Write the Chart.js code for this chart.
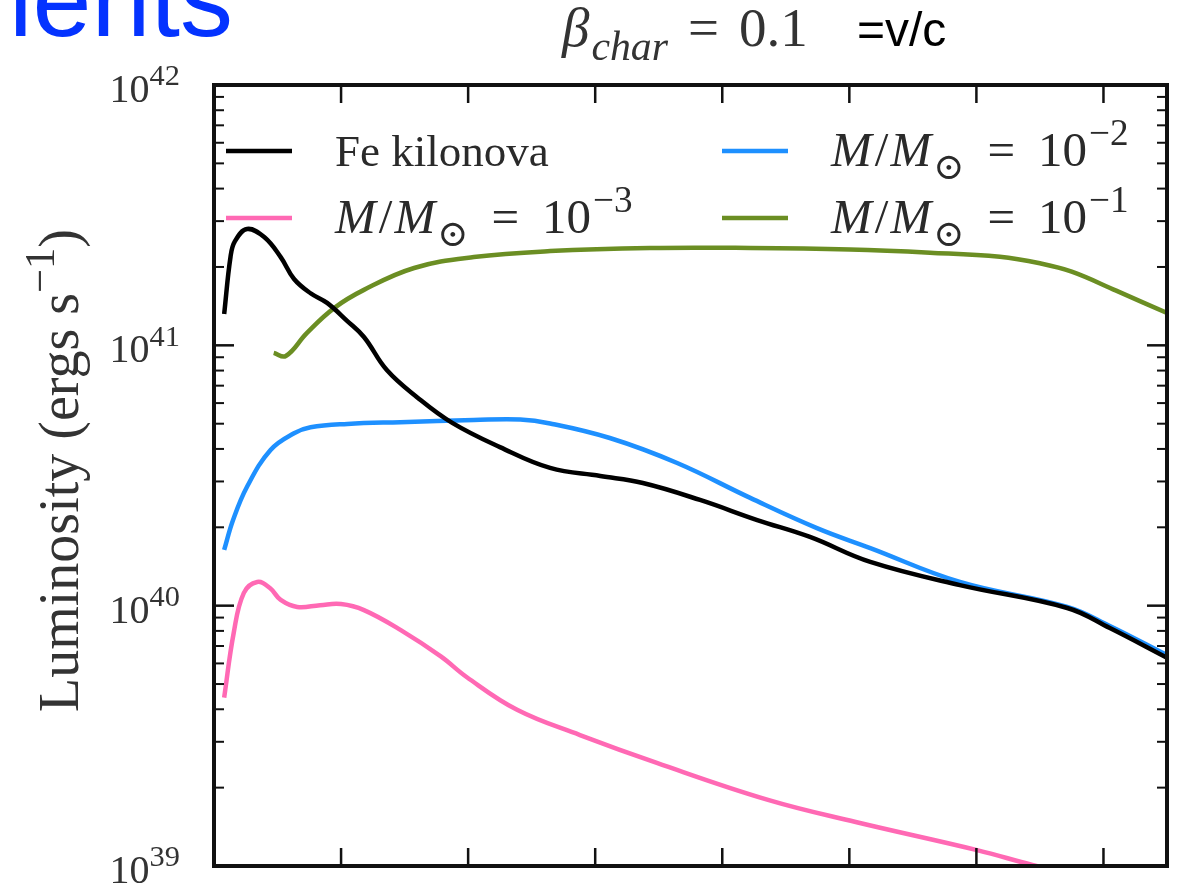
<!DOCTYPE html>
<html>
<head>
<meta charset="utf-8">
<script src="https://cdn.jsdelivr.net/npm/chart.js@4.4.1/dist/chart.umd.min.js"></script>
<style>
  html, body { margin: 0; padding: 0; background: #fff; overflow: hidden; }
  #wrap { width: 1182px; height: 886px; position: relative; }
</style>
</head>
<body>
<div id="wrap"><canvas id="c" width="1182" height="886"></canvas></div>
<script>
// Light curves: time since merger (days) vs. log10 luminosity (erg/s)
const feTime  = [0.16, 0.26, 0.33, 0.52, 0.79, 1.05, 1.26, 1.52, 1.78, 2.09, 2.36, 2.72, 3.20, 3.75, 4.50, 5.29, 6.08, 6.75, 7.65, 8.55, 9.38, 10.33, 11.74, 13.43, 14.10, 15.0];
const feLogL  = [41.12, 41.34, 41.40, 41.447, 41.416, 41.339, 41.255, 41.20, 41.163, 41.095, 41.032, 40.905, 40.80, 40.702, 40.609, 40.529, 40.498, 40.471, 40.406, 40.329, 40.264, 40.168, 40.079, 39.991, 39.914, 39.80];

const m3Time  = [0.16, 0.31, 0.47, 0.68, 0.88, 1.05, 1.31, 1.67, 2.00, 2.36, 2.94, 3.57, 3.98, 4.77, 5.76, 6.97, 8.72, 10.10, 12.01, 12.88, 13.30];
const m3LogL  = [39.647, 39.895, 40.049, 40.091, 40.068, 40.022, 39.995, 40.002, 40.006, 39.983, 39.906, 39.805, 39.725, 39.600, 39.503, 39.396, 39.254, 39.169, 39.061, 39.004, 38.98];

const m2Time  = [0.16, 0.30, 0.52, 0.89, 1.26, 1.52, 2.10, 2.93, 4.09, 4.82, 5.29, 6.23, 7.29, 8.44, 9.49, 10.33, 11.74, 13.43, 14.10, 15.0];
const m2LogL  = [40.214, 40.329, 40.457, 40.598, 40.662, 40.685, 40.698, 40.705, 40.713, 40.715, 40.700, 40.644, 40.548, 40.414, 40.298, 40.221, 40.091, 39.995, 39.922, 39.81];

const m1Time  = [0.94, 1.13, 1.46, 1.89, 2.36, 3.15, 4.09, 5.29, 6.86, 8.44, 10.01, 11.27, 12.37, 13.0, 13.5, 14.2, 15.0];
const m1LogL  = [40.971, 40.959, 41.047, 41.143, 41.213, 41.297, 41.339, 41.362, 41.374, 41.374, 41.368, 41.356, 41.34, 41.315, 41.283, 41.21, 41.124];

// Axis ticks
const xTickDays      = [0, 2, 4, 6, 8, 10, 12, 14];
const yTickExponents = [39, 40, 41, 42];
const yMinorMultipliers = [2, 3, 4, 5, 6, 7, 8, 9];

const SERIF = '"Liberation Serif", "DejaVu Serif", serif';
const SANS  = '"Liberation Sans", Arial, sans-serif';

function toPoints(ts, logs) {
  return ts.map((t, i) => ({ x: t, y: Math.pow(10, logs[i]) }));
}

// Rich-text runs for the legend entries (italic / sub / superscript pieces, gap = extra math spacing)
function massRuns(exp) {
  return [
    { t: 'M', it: true }, { gap: 3 }, { t: '/' }, { gap: 2 }, { t: 'M', it: true }, { gap: 2 }, { t: '\u2299', sub: true },
    { gap: 23 }, { t: '=' }, { gap: 23 }, { t: '10' }, { gap: 2 }, { t: '\u2212' + exp, sup: true }
  ];
}

const datasets = [
  { label: 'Fe kilonova', data: toPoints(feTime, feLogL), borderColor: '#000000', runs: [{ t: 'Fe kilonova' }], size: 45 },
  { label: 'M/M\u2299 = 10\u207B\u00B3', data: toPoints(m3Time, m3LogL), borderColor: '#ff69b4', runs: massRuns(3), size: 49 },
  { label: 'M/M\u2299 = 10\u207B\u00B2', data: toPoints(m2Time, m2LogL), borderColor: '#1e90ff', runs: massRuns(2), size: 49 },
  { label: 'M/M\u2299 = 10\u207B\u00B9', data: toPoints(m1Time, m1LogL), borderColor: '#6b8e23', runs: massRuns(1), size: 49 }
].map(d => Object.assign(d, {
  borderWidth: 4.5,
  pointRadius: 0,
  fill: false,
  tension: 0.4
}));

function runFont(r, size) {
  const s = (r.sub || r.sup) ? size * 0.76 : size;
  return (r.it ? 'italic ' : '') + s.toFixed(1) + 'px ' + SERIF;
}

function runsWidth(ctx, runs, size) {
  return runs.map(r => {
    if (r.gap) return r.gap;
    ctx.font = runFont(r, size);
    return ctx.measureText(r.t).width;
  });
}

function drawRuns(ctx, x, y, runs, size, align) {
  const widths = runsWidth(ctx, runs, size);
  const total = widths.reduce((s, w) => s + w, 0);
  let cx = align === 'right' ? x - total : x;
  runs.forEach((r, i) => {
    if (!r.gap) {
      ctx.font = runFont(r, size);
      let dy = 0;
      if (r.sub) dy = size * 0.26;
      if (r.sup) dy = -size * 0.42;
      ctx.fillText(r.t, cx, y + dy);
    }
    cx += widths[i];
  });
  return total;
}

const decorations = {
  id: 'decorations',
  afterDatasetsDraw(chart) {
    const { ctx, chartArea: a, scales: { x, y } } = chart;
    ctx.save();
    ctx.strokeStyle = '#111';
    ctx.lineCap = 'butt';
    const seg = (x1, y1, x2, y2) => { ctx.beginPath(); ctx.moveTo(x1, y1); ctx.lineTo(x2, y2); ctx.stroke(); };

    // x ticks, pointing inward from top and bottom
    ctx.lineWidth = 2.5;
    xTickDays.forEach(d => {
      const px = x.getPixelForValue(d);
      seg(px, a.top, px, a.top + 18);
      seg(px, a.bottom, px, a.bottom - 18);
    });

    // y ticks (log), major and minor on both sides
    yTickExponents.forEach(e => {
      const py = y.getPixelForValue(Math.pow(10, e));
      ctx.lineWidth = 2.5;
      seg(a.left, py, a.left + 20, py);
      seg(a.right, py, a.right - 20, py);
      if (e < yTickExponents[yTickExponents.length - 1]) {
        ctx.lineWidth = 2;
        yMinorMultipliers.forEach(m => {
          const pm = y.getPixelForValue(m * Math.pow(10, e));
          seg(a.left, pm, a.left + 10, pm);
          seg(a.right, pm, a.right - 10, pm);
        });
      }
    });

    // frame
    ctx.lineWidth = 4;
    ctx.strokeRect(a.left, a.top, a.width, a.height);

    // y tick labels 10^n
    ctx.fillStyle = '#333';
    ctx.textBaseline = 'alphabetic';
    yTickExponents.forEach(e => {
      const py = y.getPixelForValue(Math.pow(10, e));
      drawRuns(ctx, a.left - 34, py + 17, [{ t: '10' }, { t: String(e), sup: true }], 40, 'right');
    });

    // y axis title
    ctx.save();
    ctx.translate(78, (a.top + a.bottom) / 2 - 5);
    ctx.rotate(-Math.PI / 2);
    const titleRuns = [{ t: 'Luminosity (ergs s' }, { t: '\u22121', sup: true }, { t: ')' }];
    const tw = runsWidth(ctx, titleRuns, 56).reduce((s, v) => s + v, 0);
    drawRuns(ctx, -tw / 2, 0, titleRuns, 56, 'left');
    ctx.restore();

    // legend: two columns, two rows
    const cols = [a.left + 12, a.left + 508];
    const rows = [a.top + 66, a.top + 133];
    chart.data.datasets.forEach((ds, i) => {
      const col = i === 0 || i === 1 ? 0 : 1;
      const row = i === 0 || i === 2 ? 0 : 1;
      const lx = cols[col], ly = rows[row];
      ctx.strokeStyle = ds.borderColor;
      ctx.lineWidth = 4.5;
      seg(lx, ly, lx + 66, ly);
      ctx.fillStyle = '#2a2a2a';
      drawRuns(ctx, lx + 109, ly + 15, ds.runs, ds.size, 'left');
    });

    ctx.restore();
  },
  afterDraw(chart) {
    const { ctx } = chart;
    ctx.save();
    ctx.textBaseline = 'alphabetic';
    // slide heading fragment
    ctx.fillStyle = '#0433ff';
    ctx.font = '106px ' + SANS;
    ctx.fillText('ients', 9, 36);
    // panel title
    ctx.fillStyle = '#333';
    drawRuns(ctx, 562, 46, [
      { t: '\u03B2', it: true }, { gap: 2 }, { t: 'char', it: true, sub: true },
      { gap: 20 }, { t: '=' }, { gap: 20 }, { t: '0.1' }
    ], 55, 'left');
    ctx.fillStyle = '#000';
    ctx.font = '48px ' + SANS;
    ctx.fillText('=v/c', 857, 46);
    ctx.restore();
  }
};

new Chart(document.getElementById('c'), {
  type: 'line',
  data: { datasets },
  options: {
    responsive: false,
    animation: false,
    layout: { padding: { left: 214, right: 15, top: 85, bottom: 20 } },
    plugins: { legend: { display: false }, tooltip: { enabled: false }, title: { display: false } },
    scales: {
      x: { type: 'linear', min: 0, max: 15, display: false },
      y: { type: 'logarithmic', min: 1e39, max: 1e42, display: false }
    }
  },
  plugins: [decorations]
});
</script>
</body>
</html>
